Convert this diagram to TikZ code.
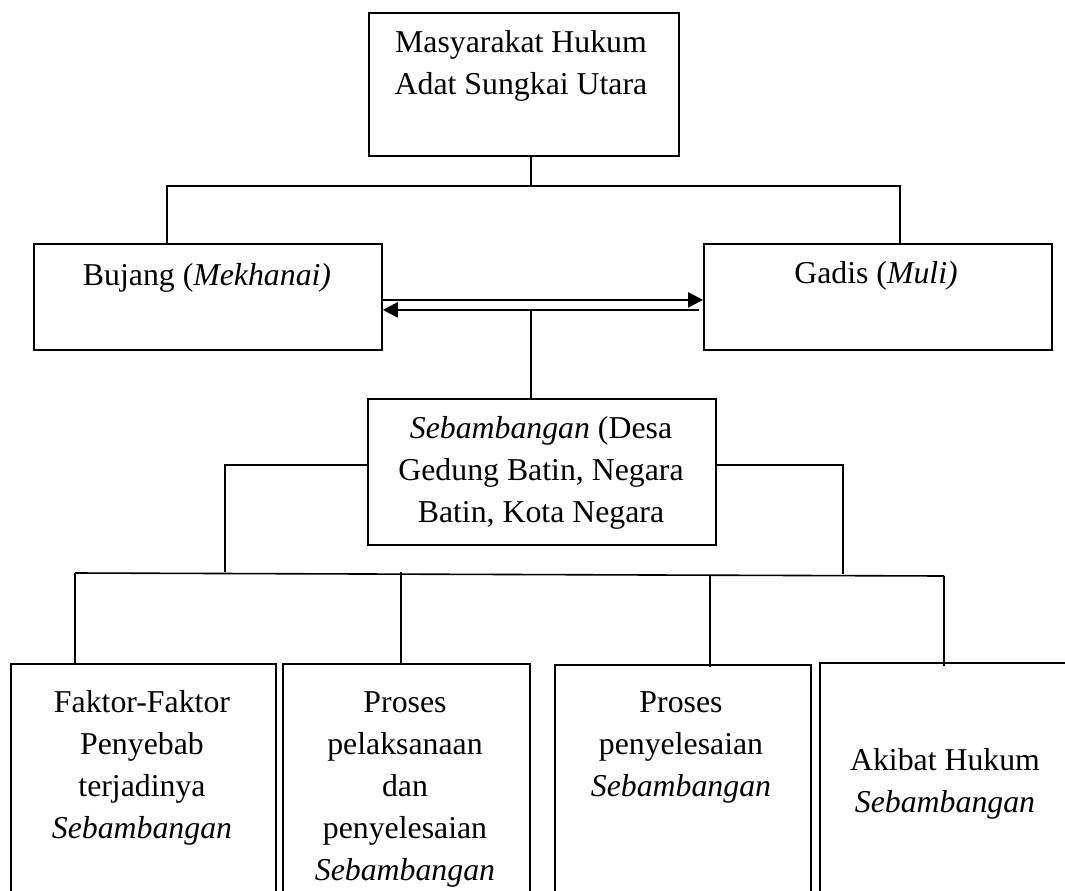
\documentclass[tikz,border=0pt]{standalone}
\usepackage{fontspec}
\setmainfont{Liberation Serif}
\usetikzlibrary{arrows.meta}

\begin{document}
\begin{tikzpicture}[x=1pt,y=-1pt,
		box/.style={draw,line width=1.8pt,anchor=north west,inner sep=0pt},
		txt/.style={anchor=base,align=center,inner sep=0pt,font=\fontsize{31.8}{42}\selectfont},
		conn/.style={line width=1.6pt},
		arr/.style={line width=2.4pt,-{Triangle[length=15pt,width=15pt]}}]
		\clip (0,0) rectangle (1065,891);
		\node[box,minimum width=310pt,minimum height=143pt] (mas) at (368,12) {};
		\node[box,minimum width=348pt,minimum height=106pt] (bujang) at (33,243) {};
		\node[box,minimum width=348pt,minimum height=106pt] (gadis) at (703,243) {};
		\node[box,minimum width=348pt,minimum height=146pt] (seb) at (367,398) {};
		\node[box,minimum width=265pt,minimum height=260pt] (faktor) at (10,663) {};
		\node[box,minimum width=247pt,minimum height=260pt] (pelak) at (282,663) {};
		\node[box,minimum width=256pt,minimum height=260pt] (selesai) at (554,664) {};
		\node[box,minimum width=260pt,minimum height=260pt] (akibat) at (819,662) {};

		% base = baseline of the last line
		\node[txt] (masT) at (521,94) {Masyarakat Hukum\\Adat Sungkai Utara};
		\node[txt] (bujangT) at (207,285) {Bujang (\textit{Mekhanai)}};
		\node[txt] (gadisT) at (876,283) {Gadis (\textit{Muli)}};
		\node[txt] (sebT) at (541,522) {\textit{Sebambangan} (Desa\\Gedung Batin, Negara\\Batin, Kota Negara};
		\node[txt] (faktorT) at (142,838) {Faktor-Faktor\\Penyebab\\terjadinya\\\textit{Sebambangan}};
		\node[txt] (pelakT) at (405,880) {Proses\\pelaksanaan\\dan\\penyelesaian\\\textit{Sebambangan}};
		\node[txt] (selesaiT) at (681,796) {Proses\\penyelesaian\\\textit{Sebambangan}};
		\node[txt] (akibatT) at (945,812) {Akibat Hukum\\\textit{Sebambangan}};

		\coordinate (tl) at (167,186);
		\coordinate (tr) at (900,186);
		\coordinate (mid) at (531,309);
		\coordinate (bl) at (225,572);
		\coordinate (br) at (843,574);
		\coordinate (b1) at (75,573);
		\coordinate (b2) at (401,572);
		\coordinate (b3) at (710,575);
		\coordinate (b4) at (944,576);

		\draw[conn] ([xshift=7pt]mas.south) -- ([xshift=7pt]mas.south |- tl);
		\draw[conn] (bujang.north -| tl) -- (tl) -- (tr) -- (gadis.north -| tr);
		\draw[arr] ([yshift=-3pt]bujang.east) -- ([yshift=-3pt]gadis.west);
		\draw[arr] ([yshift=-13pt,xshift=-4pt]gadis.west) -- ([yshift=-13pt]bujang.east);
		\draw[conn] (mid) -- (mid |- seb.north);
		\draw[conn] ([yshift=7pt]seb.west) -| (bl);
		\draw[conn] ([yshift=7pt]seb.east) -| (br);
		\draw[conn] (b1) -- (b4);
		\draw[conn] (b1) -- (faktor.north -| b1);
		\draw[conn] (b2) -- (pelak.north -| b2);
		\draw[conn] (b3) -- ([yshift=-3pt]selesai.north -| b3);
		\draw[conn] (b4) -- ([yshift=-4pt]akibat.north -| b4);
\end{tikzpicture}
\end{document}
